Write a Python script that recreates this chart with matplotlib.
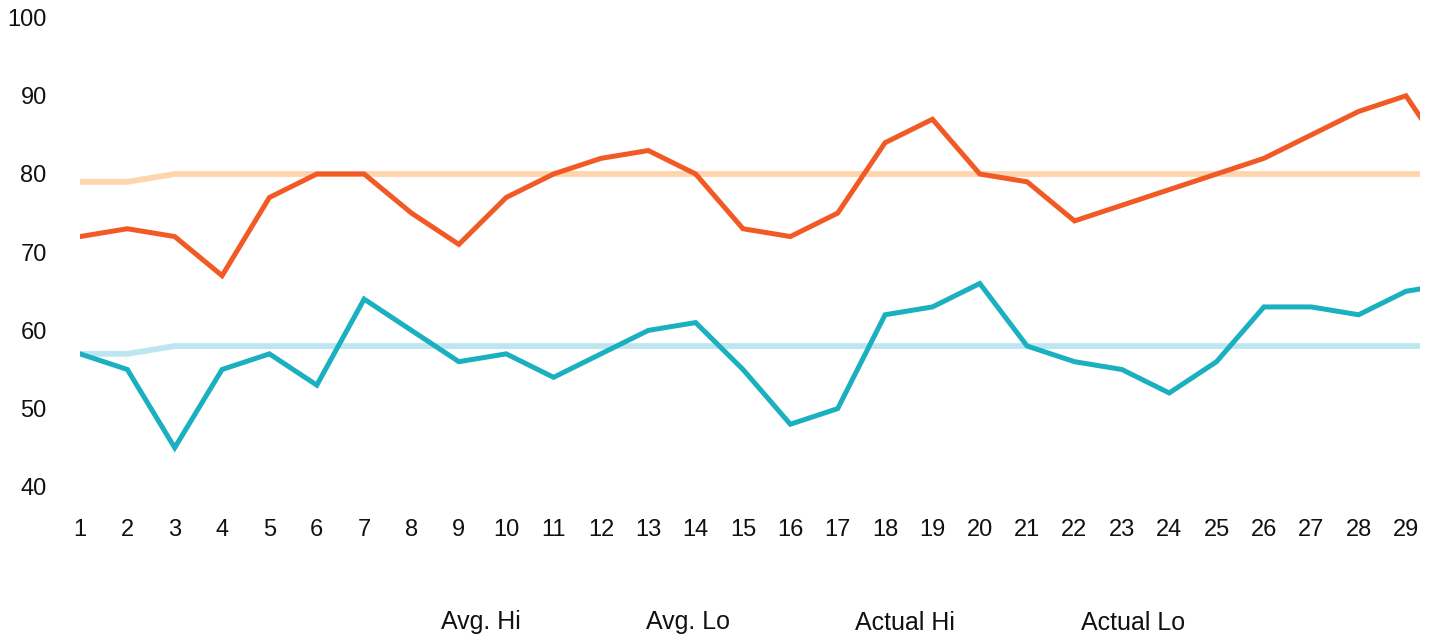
import matplotlib
matplotlib.use("Agg")
import matplotlib.pyplot as plt

plt.rcParams['font.family'] = ['Liberation Sans', 'DejaVu Sans']

days = list(range(1, 31))
avg_hi = [79, 79] + [80] * 28
avg_lo = [57, 57] + [58] * 28
actual_hi = [72, 73, 72, 67, 77, 80, 80, 75, 71, 77, 80, 82, 83, 80, 73, 72, 75, 84, 87, 80,
             79, 74, 76, 78, 80, 82, 85, 88, 90, 81]
actual_lo = [57, 55, 45, 55, 57, 53, 64, 60, 56, 57, 54, 57, 60, 61, 55, 48, 50, 62, 63, 66,
             58, 56, 55, 52, 56, 63, 63, 62, 65, 66]
series_names = ["Avg. Hi", "Avg. Lo", "Actual Hi", "Actual Lo"]
y_ticks = [40, 50, 60, 70, 80, 90, 100]
x_ticks = list(range(1, 30))

W, H = 1434, 637
fig = plt.figure(figsize=(W / 100, H / 100), dpi=100)
left, right = 80 / W, 1420 / W
top, bottom = 1 - 17.6 / H, 1 - 486.8 / H
ax = fig.add_axes([left, bottom, right - left, top - bottom])

c_avg_hi = "#FFD5AD"
c_avg_lo = "#BDE6F0"
c_hi = "#F15A24"
c_lo = "#1AB0BF"
txt = "#111111"

ax.plot(days, avg_hi, color=c_avg_hi, lw=4.2, solid_joinstyle='miter', zorder=2)
ax.plot(days, avg_lo, color=c_avg_lo, lw=4.2, solid_joinstyle='miter', zorder=2)
ax.plot(days, actual_hi, color=c_hi, lw=3.6, solid_joinstyle='miter', zorder=3)
ax.plot(days, actual_lo, color=c_lo, lw=3.6, solid_joinstyle='miter', zorder=3)

ax.set_xlim(1, 1 + 1340 / 47.357)
ax.set_ylim(40, 100)
ax.set_yticks(y_ticks)
ax.set_xticks(x_ticks)
ax.set_xticklabels([str(x) for x in x_ticks])
for s in ax.spines.values():
    s.set_visible(False)
ax.tick_params(axis='both', length=0, labelsize=17, colors=txt)
ax.tick_params(axis='y', pad=24)
ax.tick_params(axis='x', pad=23.5)

legend_x = [441, 646, 855, 1081]
for name, lx in zip(series_names, legend_x):
    fig.text(lx / W, 1 - 622.5 / H, name, ha='left', va='center', fontsize=18, color=txt)

fig.savefig("out.png", dpi=100)
